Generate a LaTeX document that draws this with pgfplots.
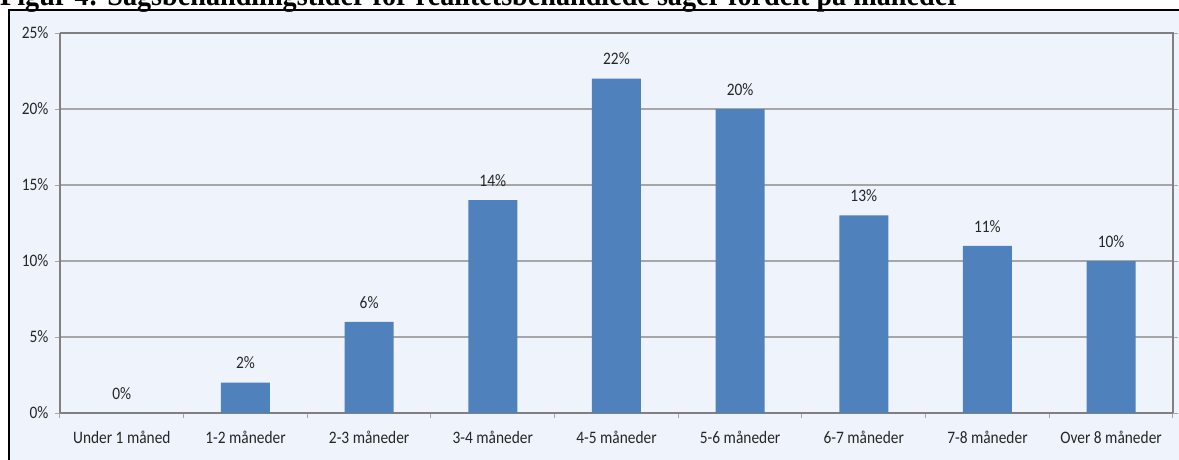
\documentclass[border=0pt]{standalone}
\usepackage{pgfplots}
\pgfplotsset{compat=1.18}
\usetikzlibrary{calc}
\usepackage{fontspec}
\setmainfont{Carlito}[FakeStretch=0.88]
\newfontfamily\titlefont{Liberation Serif}[FakeStretch=0.9]
\definecolor{bgblue}{HTML}{EEF3FC}
\definecolor{barblue}{HTML}{4F81BD}
\definecolor{gridgray}{HTML}{A6A6A6}
\definecolor{labelgray}{HTML}{262626}
\pgfdeclarelayer{bg}
\pgfsetlayers{bg,main}
\begin{document}
\begin{tikzpicture}[x=1pt,y=1pt]
\begin{axis}[
    name=ax,
    scale only axis,
    width=1113pt, height=380pt,
    xmin=-0.5, xmax=8.5,
    ymin=0, ymax=25,
    ytick={0,5,10,15,20,25},
    yticklabel={\pgfmathprintnumber{\tick}\%},
    xtick={0,...,8},
    xticklabels={Under 1 måned,1-2 måneder,2-3 måneder,3-4 måneder,4-5 måneder,5-6 måneder,6-7 måneder,7-8 måneder,Over 8 måneder},
    minor xtick={-0.5,0.5,...,8.5},
    major x tick style={draw=none},
    tick align=outside,
    major tick length=5pt,
    minor tick length=5pt,
    tick style={gridgray, line width=1pt},
    ymajorgrids,
    grid style={gridgray, line width=1.5pt},
    axis line style={draw=gray, line width=1.2pt},
    axis x line*=bottom,
    axis background/.style={fill=bgblue},
    /pgf/number format/assume math mode=true,
    tick label style={font=\fontsize{17.5}{19}\selectfont, text=labelgray},
    xticklabel style={yshift=-10pt},
    yticklabel style={xshift=-3pt},
    ybar, bar width=49pt,
    nodes near coords={\pgfmathprintnumber{\pgfplotspointmeta}\%},
    nodes near coords style={font=\fontsize{17.5}{19}\selectfont, text=labelgray, yshift=10pt},
    clip=false,
]
\addplot[fill=barblue, draw=none] coordinates {(0,0) (1,2) (2,6) (3,14) (4,22) (5,20) (6,13) (7,11) (8,10)};
\end{axis}
\begin{scope}[shift={($(ax.south west)-(60,46)$)}]
  \begin{pgfonlayer}{bg}
    \fill[white] (0,0) rectangle (1179,459);
    \fill[bgblue] (9,-5) rectangle (1185,449);
  \end{pgfonlayer}
  \draw[black, line width=2pt] (9,-5) -- (9,449) -- (1185,449);
  % plot area frame on top and right
  \draw[gray, line width=1.2pt] (60,426) -- (1173,426) -- (1173,46);
  % title, cut off at the top as in the source
  \node[anchor=base west, inner sep=0pt, font=\titlefont\bfseries\fontsize{31.3}{33}\selectfont] at (0,453)
    {Figur 4: Sagsbehandlingstider for realitetsbehandlede sager fordelt på måneder};
  \pgfresetboundingbox
  \useasboundingbox (0,0) rectangle (1179,459);
\end{scope}
\end{tikzpicture}
\end{document}
